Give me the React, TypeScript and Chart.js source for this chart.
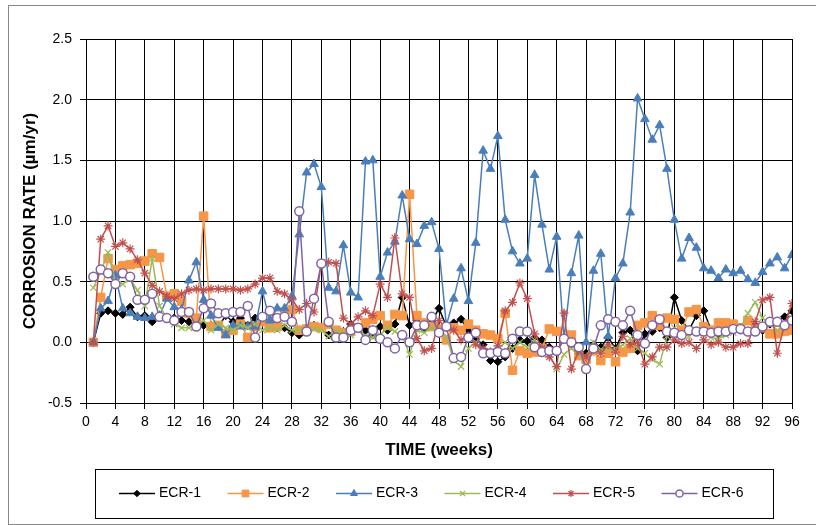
import React, { useEffect, useRef } from "react";
import { Chart, registerables } from "chart.js";
import { drawPoint } from "chart.js/helpers";

Chart.register(...registerables);

const weeks: number[] = Array.from({ length: 96 }, (_, i) => i + 1);

const ecr1: number[] = [
  0, 0.24, 0.26, 0.24, 0.23, 0.29, 0.21, 0.22, 0.17, 0.21, 0.2, 0.2,
  0.18, 0.17, 0.18, 0.14, 0.14, 0.13, 0.22, 0.17, 0.2, 0.14, 0.2, 0.17,
  0.14, 0.12, 0.12, 0.08, 0.06, 0.1, 0.14, 0.12, 0.06, 0.08, 0.09, 0.15,
  0.12, 0.1, 0.06, 0.13, 0.1, 0.15, 0.37, 0.14, 0.18, 0.11, 0.17, 0.28,
  0.13, 0.16, 0.19, 0.1, 0.03, -0.02, -0.15, -0.16, -0.12, -0.05, 0.02, 0.01,
  0.04, 0.02, -0.04, -0.08, 0.03, -0.02, -0.06, -0.09, -0.02, -0.04, 0.04, -0.05,
  0.08, 0.1, -0.07, 0.07, 0.09, 0.12, 0.04, 0.37, 0.18, 0.1, 0.22, 0.26,
  0.1, 0.07, 0.12, 0.15, 0.1, 0.18, 0.14, 0.1, 0.15, 0.17, 0.21, 0.26,
];

const ecr2: number[] = [
  0, 0.37, 0.69, 0.6, 0.63, 0.64, 0.65, 0.67, 0.73, 0.7, 0.38, 0.4,
  0.34, 0.24, 0.2, 1.04, 0.13, 0.14, 0.07, 0.1, 0.15, 0.04, 0.13, 0.17,
  0.12, 0.13, 0.24, 0.27, 0.1, 0.11, 0.13, 0.12, 0.15, 0.1, 0.08, 0.09,
  0.12, 0.16, 0.19, 0.22, 0.14, 0.23, 0.22, 1.22, 0.22, 0.16, 0.13, 0.11,
  0.02, 0.12, 0.1, 0.15, 0.1, 0.07, 0.06, 0.03, 0.24, -0.23, -0.07, -0.09,
  -0.08, -0.05, 0.11, 0.09, 0.03, 0.06, -0.11, -0.14, -0.07, -0.15, -0.09, -0.16,
  -0.08, -0.05, 0.14, 0.16, 0.22, 0.14, 0.2, 0.19, 0.1, 0.25, 0.27, 0.13,
  0.1, 0.16, 0.16, 0.15, 0.12, 0.18, 0.11, 0.12, 0.07, 0.07, 0.09, 0.1,
];

const ecr3: number[] = [
  0, 0.28, 0.34, 0.55, 0.28, 0.24, 0.21, 0.2, 0.21, 0.22, 0.36, 0.29,
  0.27, 0.51, 0.66, 0.35, 0.22, 0.12, 0.06, 0.14, 0.13, 0.13, 0.13, 0.42,
  0.18, 0.28, 0.28, 0.38, 0.89, 1.4, 1.47, 1.28, 0.45, 0.42, 0.8, 0.41,
  0.37, 1.49, 1.5, 0.54, 0.74, 0.83, 1.21, 0.85, 0.81, 0.96, 0.99, 0.77,
  0.14, 0.36, 0.61, 0.34, 0.82, 1.58, 1.43, 1.7, 1.01, 0.75, 0.65, 0.69,
  1.38, 0.97, 0.6, 0.87, 0.03, 0.57, 0.88, 0.0, 0.59, 0.73, 0.05, 0.53,
  0.65, 1.07, 2.01, 1.84, 1.67, 1.79, 1.43, 1.01, 0.69, 0.86, 0.78, 0.61,
  0.59, 0.53, 0.6, 0.57, 0.59, 0.52, 0.49, 0.58, 0.65, 0.7, 0.61, 0.72,
];

const ecr4: number[] = [
  0.45, 0.58, 0.74, 0.5, 0.48, 0.52, 0.43, 0.3, 0.69, 0.3, 0.2, 0.15,
  0.12, 0.12, 0.15, 0.18, 0.1, 0.15, 0.12, 0.1, 0.14, 0.12, 0.15, 0.1,
  0.12, 0.1, 0.14, 0.1, 0.1, 0.08, 0.11, 0.1, 0.05, 0.09, 0.08, 0.06,
  0.12, 0.05, 0.04, 0.06, 0.12, 0.09, 0.05, -0.1, 0.1, 0.08, 0.12, 0.1,
  0.05, -0.15, -0.2, -0.05, 0.0, -0.08, -0.1, -0.06, 0.0, -0.05, 0.0, -0.04,
  0.02, -0.06, -0.1, -0.22, -0.1, -0.05, -0.1, -0.12, 0.0, -0.06, -0.05, -0.05,
  -0.02, 0.03, -0.05, -0.09, -0.14, -0.18, 0.05, 0.12, 0.08, 0.05, 0.1, 0.08,
  0.04, 0.03, 0.06, 0.08, 0.12, 0.24, 0.33, 0.2, 0.15, 0.1, 0.13, 0.2,
];

const ecr5: number[] = [
  0, 0.85, 0.96, 0.79, 0.82, 0.77, 0.68, 0.57, 0.47, 0.42, 0.38, 0.36,
  0.4, 0.43, 0.44, 0.43, 0.44, 0.44, 0.44, 0.44, 0.43, 0.44, 0.48, 0.53,
  0.53, 0.42, 0.4, 0.35, 0.27, 0.32, 0.25, 0.65, 0.66, 0.65, 0.2, 0.15,
  0.21, 0.26, 0.22, 0.48, 0.37, 0.86, 0.4, 0.37, 0.03, -0.07, -0.05, 0.18,
  0.12, 0.1, 0.02, 0.05, -0.02, -0.05, -0.08, -0.03, 0.26, 0.33, 0.49, 0.36,
  0.07, -0.05, -0.12, -0.2, 0.24, -0.22, -0.07, -0.12, -0.05, -0.09, -0.02, -0.08,
  0.05, -0.02, 0.0, -0.18, -0.12, -0.04, -0.04, 0.02, -0.01, 0.0, -0.05, 0.02,
  -0.02, 0.0, -0.04, -0.04, -0.01, -0.01, 0.17, 0.35, 0.37, -0.09, 0.15, 0.32,
];

const ecr6: number[] = [
  0.54, 0.6, 0.57, 0.48, 0.57, 0.54, 0.35, 0.35, 0.4, 0.21, 0.2, 0.18,
  0.25, 0.25, 0.13, 0.28, 0.32, 0.24, 0.24, 0.25, 0.25, 0.3, 0.04, 0.21,
  0.26, 0.2, 0.21, 0.17, 1.08, 0.09, 0.36, 0.65, 0.17, 0.04, 0.04, 0.1,
  0.12, 0.02, 0.1, 0.03, 0.0, -0.05, 0.06, 0.0, 0.14, 0.14, 0.21, 0.08,
  0.13, -0.13, -0.12, 0.04, 0.08, -0.09, -0.09, -0.08, -0.09, 0.03, 0.09, 0.09,
  -0.04, -0.08, -0.07, -0.07, 0.03, 0.0, -0.04, -0.22, -0.05, 0.14, 0.19, 0.17,
  0.14, 0.26, 0.06, -0.01, 0.14, 0.19, 0.09, 0.08, 0.06, 0.1, 0.09, 0.09,
  0.08, 0.09, 0.09, 0.11, 0.11, 0.09, 0.09, 0.13, 0.17, 0.17, 0.14, 0.18,
];

const seriesLabels: string[] = ["ECR-1", "ECR-2", "ECR-3", "ECR-4", "ECR-5", "ECR-6"];
const xTickStep = 4;
const yTickStep = 0.5;

const FONT = '"Liberation Sans", Arial, sans-serif';

const legendPlugin = {
  id: "boxLegend",
  afterDraw(chart: any) {
    const ctx = chart.ctx as CanvasRenderingContext2D;
    ctx.save();
    ctx.strokeStyle = "#000";
    ctx.lineWidth = 1;
    ctx.strokeRect(87.5, 464.5, 678, 49);
    const y = 488.5;
    chart.data.datasets.forEach((ds: any, i: number) => {
      const x0 = 111 + i * 108.5;
      ctx.strokeStyle = ds.borderColor;
      ctx.lineWidth = 1.5;
      ctx.beginPath();
      ctx.moveTo(x0, y);
      ctx.lineTo(x0 + 36, y);
      ctx.stroke();
      ctx.fillStyle = ds.pointBackgroundColor;
      ctx.strokeStyle = ds.pointBorderColor;
      ctx.lineWidth = ds.pointBorderWidth;
      drawPoint(
        ctx,
        { pointStyle: ds.pointStyle, radius: ds.pointRadius * 0.8, borderWidth: ds.pointBorderWidth, rotation: 0 } as any,
        x0 + 18,
        y
      );
      ctx.fillStyle = "#000";
      ctx.font = `14px ${FONT}`;
      ctx.textBaseline = "middle";
      ctx.textAlign = "left";
      ctx.fillText(ds.label, x0 + 40, y);
    });
    ctx.restore();
  },
};

function toPoints(vals: number[]) {
  return vals.map((v, i) => ({ x: weeks[i], y: v }));
}

export default function App() {
  const ref = useRef<HTMLCanvasElement | null>(null);

  useEffect(() => {
    if (!ref.current) return;
    const styles = [
      { color: "#000000", style: "rectRot", r: 4, bg: "#000000", bw: 1, order: 5 },
      { color: "#F79646", style: "rect", r: 6, bg: "#F79646", bw: 1, order: 4 },
      { color: "#4A7EBB", style: "triangle", r: 5, bg: "#4A7EBB", bw: 1, order: 3 },
      { color: "#9BBB59", style: "crossRot", r: 4.5, bg: "#9BBB59", bw: 1.2, order: 2 },
      { color: "#C0504D", style: "star", r: 4.5, bg: "#C0504D", bw: 1.2, order: 1 },
      { color: "#8064A2", style: "circle", r: 4.5, bg: "#FFFFFF", bw: 1.5, order: 0 },
    ];
    const series = [ecr1, ecr2, ecr3, ecr4, ecr5, ecr6];
    const datasets = series.map((vals, i) => ({
      label: seriesLabels[i],
      data: toPoints(vals),
      borderColor: styles[i].color,
      backgroundColor: styles[i].color,
      borderWidth: 1.5,
      pointStyle: styles[i].style,
      pointRadius: styles[i].r,
      pointBackgroundColor: styles[i].bg,
      pointBorderColor: styles[i].color,
      pointBorderWidth: styles[i].bw,
      order: styles[i].order,
      tension: 0,
    }));

    const chart = new Chart(ref.current, {
      type: "line",
      data: { datasets } as any,
      plugins: [legendPlugin],
      options: {
        animation: false,
        responsive: false,
        maintainAspectRatio: false,
        layout: { padding: { left: 12, top: 34, right: 24, bottom: 63 } },
        plugins: { legend: { display: false }, tooltip: { enabled: false } },
        scales: {
          x: {
            type: "linear",
            min: 0,
            max: 96,
            ticks: { stepSize: xTickStep, color: "#000", font: { family: FONT, size: 14 }, padding: 5, maxRotation: 0 },
            grid: { color: "#000", lineWidth: 1, tickLength: 6, drawTicks: true },
            border: { color: "#000", width: 1 },
            title: { display: true, text: "TIME (weeks)", color: "#000", font: { family: FONT, size: 17, weight: "bold" }, padding: 0 },
            afterFit: (s: any) => { s.height = 58; },
          },
          y: {
            type: "linear",
            min: -0.5,
            max: 2.5,
            ticks: {
              stepSize: yTickStep,
              color: "#000",
              font: { family: FONT, size: 14 },
              padding: 8,
              callback: (v: any) => Number(v).toFixed(1),
            },
            grid: { color: "#000", lineWidth: 1, tickLength: 6, drawTicks: true },
            border: { color: "#000", width: 1 },
            title: { display: true, text: "CORROSION RATE (µm/yr)", color: "#000", font: { family: FONT, size: 17, weight: "bold" }, padding: 0 },
            afterFit: (s: any) => { s.width = 66; },
          },
        },
      } as any,
    });
    return () => chart.destroy();
  }, []);

  return (
    <div style={{ position: "absolute", left: 8, top: 5, width: 808, height: 520 }}>
      <canvas ref={ref} width={808} height={519} style={{ position: "absolute", left: 0, top: 0, width: 808, height: 519 }} />
      <div
        style={{
          position: "absolute",
          left: 0,
          top: 0,
          width: 808,
          height: 520,
          boxSizing: "border-box",
          borderLeft: "1px solid #888",
          borderTop: "1px solid #888",
          borderBottom: "1px solid #888",
          pointerEvents: "none",
        }}
      />
    </div>
  );
}
